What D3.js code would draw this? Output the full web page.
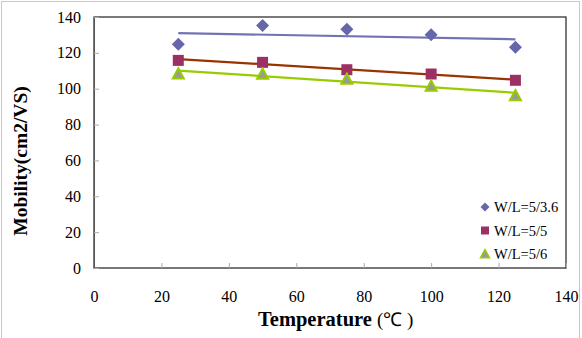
<!DOCTYPE html>
<html>
<head>
<meta charset="utf-8">
<script src="https://cdn.jsdelivr.net/npm/d3@7"></script>
<style>
	body { margin: 0; background: #fff; }
</style>
</head>
<body>
<svg id="chart" width="582" height="338" font-family="Liberation Serif"></svg>
<script>
////////////////////////////////////////////////////////////
//// Data //////////////////////////////////////////////////
////////////////////////////////////////////////////////////
const temperatures = [25, 50, 75, 100, 125];
const mobility36 = [124.8, 135.3, 133.1, 130.1, 123.1];
const mobility5 = [115.8, 114.7, 110.6, 108.2, 104.7];
const mobility6 = [108.3, 108.2, 105.4, 101.5, 96.2];
const seriesNames = ["W/L=5/3.6", "W/L=5/5", "W/L=5/6"];
const xTicks = [0, 20, 40, 60, 80, 100, 120, 140];
const yTicks = [0, 20, 40, 60, 80, 100, 120, 140];

const series = [
	{ name: seriesNames[0], values: mobility36, shape: "diamond", fill: "#6666aa", stroke: "none", line: "#7373b3" },
	{ name: seriesNames[1], values: mobility5, shape: "square", fill: "#9c2f63", stroke: "none", line: "#993300" },
	{ name: seriesNames[2], values: mobility6, shape: "triangle", fill: "#999999", stroke: "#99cc00", line: "#99cc00" }
];

////////////////////////////////////////////////////////////
//// Setup /////////////////////////////////////////////////
////////////////////////////////////////////////////////////
const svg = d3.select("#chart");
const plot = { left: 94, top: 17, right: 566, bottom: 268 };

const x = d3.scaleLinear().domain([0, 140]).range([plot.left, plot.right]);
const y = d3.scaleLinear().domain([0, 140]).range([plot.bottom, plot.top]);

// least-squares trendline, like the spreadsheet's linear trend
function fit(xs, ys) {
	const mx = d3.mean(xs), my = d3.mean(ys);
	const slope = d3.sum(xs, (v, i) => (v - mx) * (ys[i] - my)) / d3.sum(xs, v => (v - mx) ** 2);
	return v => my + slope * (v - mx);
}

// marker path, scaled by its half width
function marker(shape, r) {
	if (shape === "diamond") return `M0,${-r}L${r},0L0,${r}L${-r},0Z`;
	if (shape === "square") return `M${-r},${-r}H${r}V${r}H${-r}Z`;
	return `M0,${-r}L${r},${r * 0.85}L${-r},${r * 0.85}Z`;
}

////////////////////////////////////////////////////////////
//// Render ////////////////////////////////////////////////
////////////////////////////////////////////////////////////
// outer frame
svg.append("rect")
	.attr("x", 1.5).attr("y", 1.5)
	.attr("width", 578).attr("height", 340)
	.attr("fill", "none")
	.attr("stroke", "#c8c8c8");

// plot frame
svg.append("rect")
	.attr("x", plot.left).attr("y", plot.top)
	.attr("width", plot.right - plot.left).attr("height", plot.bottom - plot.top)
	.attr("fill", "none")
	.attr("stroke", "#222")
	.attr("stroke-width", 1.2);

// axes
svg.append("g")
	.attr("transform", `translate(0,${plot.bottom})`)
	.call(d3.axisBottom(x).tickValues(xTicks).tickSizeInner(-5).tickSizeOuter(0).tickPadding(23))
	.attr("font-family", "Liberation Serif")
	.attr("font-size", 16)
	.call(g => g.select(".domain").attr("stroke", "#777"))
	.call(g => g.selectAll(".tick line").attr("stroke", "#aaa"))
	.call(g => g.selectAll(".tick text").attr("fill", "#000"));

svg.append("g")
	.attr("transform", `translate(${plot.left},0)`)
	.call(d3.axisLeft(y).tickValues(yTicks).tickSizeInner(-5).tickSizeOuter(0).tickPadding(13))
	.attr("font-family", "Liberation Serif")
	.attr("font-size", 16)
	.call(g => g.select(".domain").attr("stroke", "#555"))
	.call(g => g.selectAll(".tick line").attr("stroke", "#aaa"))
	.call(g => g.selectAll(".tick text").attr("fill", "#000"));

// titles
const xTitle = svg.append("text")
	.attr("x", 258).attr("y", 326)
	.attr("font-size", 20.5);
xTitle.append("tspan").attr("font-weight", "bold").text("Temperature ");
xTitle.append("tspan").attr("font-size", 19).text("(℃ )");

svg.append("text")
	.attr("transform", "translate(27,161) rotate(-90)")
	.attr("text-anchor", "middle")
	.attr("font-size", 19.5).attr("font-weight", "bold")
	.text("Mobility(cm2/VS)");

// trendlines
series.forEach(s => {
	const f = fit(temperatures, s.values);
	svg.append("path")
		.attr("fill", "none")
		.attr("stroke", s.line)
		.attr("stroke-width", 2.2)
		.attr("d", d3.line().x(d => x(d)).y(d => y(f(d)))(d3.extent(temperatures)));
});

// markers
series.forEach(s => {
	svg.append("g")
		.selectAll("path")
		.data(s.values)
		.join("path")
		.attr("transform", (d, i) => `translate(${x(temperatures[i])},${y(d)})`)
		.attr("d", marker(s.shape, s.shape === "diamond" ? 6.5 : 5.5))
		.attr("fill", s.fill)
		.attr("stroke", s.stroke)
		.attr("stroke-width", 2);
});

// legend
const legend = svg.append("g")
	.selectAll("g")
	.data(series)
	.join("g")
	.attr("transform", (d, i) => `translate(485,${207 + i * 23.5})`);

legend.append("path")
	.attr("d", d => marker(d.shape, d.shape === "diamond" ? 4.5 : d.shape === "square" ? 4 : 4.5))
	.attr("fill", d => d.fill)
	.attr("stroke", d => d.stroke)
	.attr("stroke-width", 1.5);

legend.append("text")
	.attr("x", 9)
	.attr("dy", "0.35em")
	.attr("font-size", 14.5)
	.text(d => d.name);
</script>
</body>
</html>
